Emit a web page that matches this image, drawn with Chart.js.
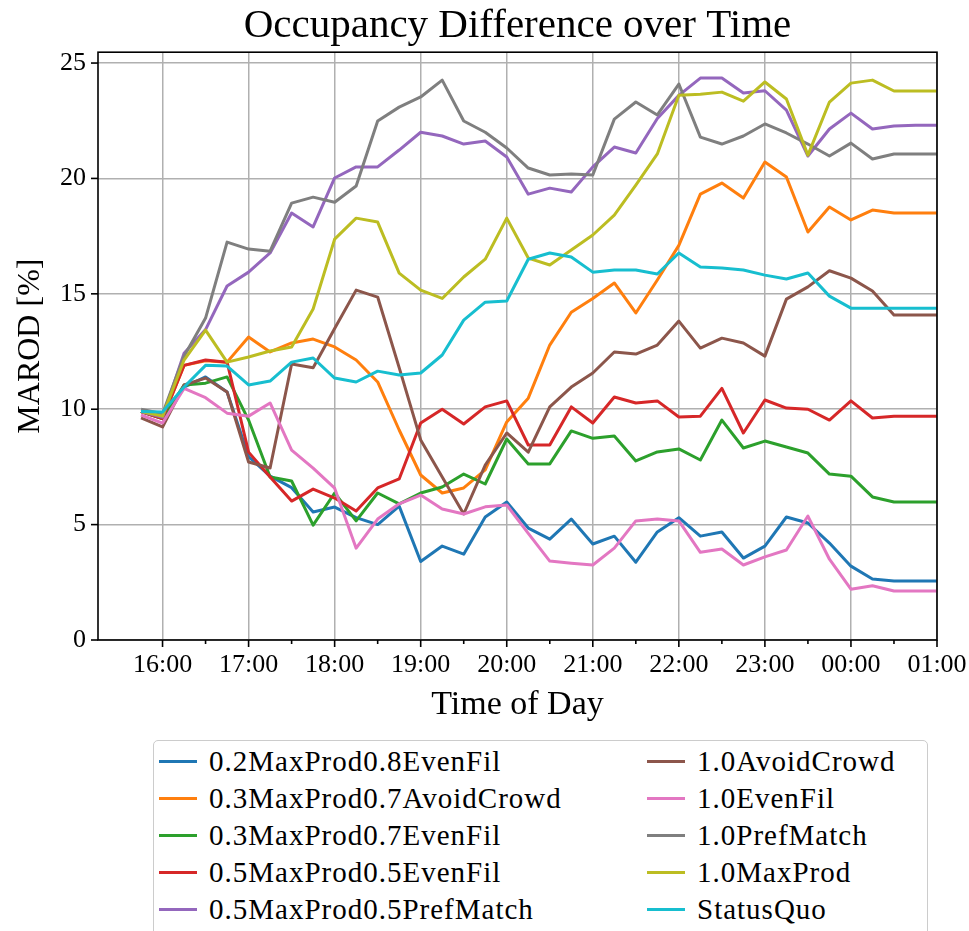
<!DOCTYPE html>
<html>
<head>
<meta charset="utf-8">
<title>Occupancy Difference over Time</title>
<script src="https://cdn.jsdelivr.net/npm/chart.js@4.4.1/dist/chart.umd.min.js"></script>
<style>
    body {
        margin: 0;
        background: #fff;
    }

    #wrap {
        position: relative;
        width: 969px;
        height: 931px;
        overflow: hidden;
        background: #fff;
    }

    #legend {
        position: absolute;
        left: 153px;
        top: 740px;
        width: 775px;
        height: 220px;
        box-sizing: border-box;
        border: 1.5px solid #cccccc;
        border-radius: 5px;
        padding: 2px 0 0 5px;
        display: grid;
        grid-template-columns: 488px auto;
        grid-template-rows: repeat(5, 37px);
        grid-auto-flow: column;
        font-family: "Liberation Serif", "DejaVu Serif", serif;
        font-size: 29px;
        letter-spacing: 1px;
        color: #000;
    }

    .item {
        display: flex;
        align-items: center;
        white-space: nowrap;
    }

    .swatch {
        flex: 0 0 38px;
        height: 3.5px;
        margin-right: 12px;
    }
</style>
</head>
<body>
<div id="wrap">
    <canvas id="occChart" width="969" height="735"></canvas>
    <div id="legend"></div>
</div>

<script>
// ==============================
// DATA
// ==============================
const times = [
    "15:45", "16:00", "16:15", "16:30", "16:45", "17:00", "17:15", "17:30",
    "17:45", "18:00", "18:15", "18:30", "18:45", "19:00", "19:15", "19:30",
    "19:45", "20:00", "20:15", "20:30", "20:45", "21:00", "21:15", "21:30",
    "21:45", "22:00", "22:15", "22:30", "22:45", "23:00", "23:15", "23:30",
    "23:45", "00:00", "00:15", "00:30", "00:45", "01:00"
];

const seriesNames = [
    "0.2MaxProd0.8EvenFil",
    "0.3MaxProd0.7AvoidCrowd",
    "0.3MaxProd0.7EvenFil",
    "0.5MaxProd0.5EvenFil",
    "0.5MaxProd0.5PrefMatch",
    "1.0AvoidCrowd",
    "1.0EvenFil",
    "1.0PrefMatch",
    "1.0MaxProd",
    "StatusQuo"
];

const maxProd02EvenFil08 = [
    9.90, 9.60, 10.96, 11.40, 10.75, 7.95, 7.10, 6.60, 5.55, 5.76,
    5.30, 5.00, 5.80, 3.40, 4.07, 3.72, 5.33, 5.98, 4.85, 4.37,
    5.24, 4.16, 4.50, 3.37, 4.68, 5.30, 4.50, 4.68, 3.55, 4.07,
    5.33, 5.07, 4.20, 3.20, 2.64, 2.56, 2.56, 2.56
];

const maxProd03AvoidCrowd07 = [
    9.90, 9.60, 11.90, 12.10, 12.04, 13.13, 12.48, 12.87, 13.04, 12.70,
    12.13, 11.18, 9.10, 7.15, 6.37, 6.59, 7.37, 9.45, 10.48, 12.78,
    14.20, 14.80, 15.47, 14.17, 15.60, 17.10, 19.32, 19.80, 19.15, 20.71,
    20.06, 17.68, 18.76, 18.20, 18.63, 18.50, 18.50, 18.50
];

const maxProd03EvenFil07 = [
    9.90, 9.60, 11.05, 11.13, 11.40, 9.53, 7.06, 6.89, 4.98, 6.37,
    5.16, 6.37, 5.90, 6.37, 6.63, 7.19, 6.76, 8.71, 7.63, 7.63,
    9.06, 8.74, 8.84, 7.76, 8.15, 8.28, 7.80, 9.53, 8.32, 8.62,
    8.36, 8.10, 7.19, 7.10, 6.20, 5.98, 5.98, 5.98
];

const maxProd05EvenFil05 = [
    9.90, 9.60, 11.90, 12.13, 12.04, 8.14, 7.06, 6.02, 6.54, 6.15,
    5.59, 6.59, 6.98, 9.40, 10.00, 9.36, 10.10, 10.36, 8.45, 8.45,
    10.10, 9.40, 10.53, 10.27, 10.36, 9.66, 9.70, 10.90, 8.97, 10.40,
    10.05, 10.00, 9.53, 10.36, 9.62, 9.70, 9.70, 9.70
];

const maxProd05PrefMatch05 = [
    9.90, 9.65, 12.43, 13.45, 15.34, 15.94, 16.77, 18.50, 17.90, 20.02,
    20.50, 20.50, 21.23, 22.00, 21.84, 21.49, 21.62, 20.93, 19.32, 19.58,
    19.41, 20.50, 21.36, 21.10, 22.60, 23.60, 24.35, 24.35, 23.70, 23.80,
    22.96, 20.97, 22.14, 22.83, 22.14, 22.27, 22.30, 22.30
];

const avoidCrowd10 = [
    9.62, 9.23, 11.05, 11.35, 10.75, 7.71, 7.45, 11.96, 11.80, 13.50,
    15.16, 14.86, 11.80, 8.67, 7.06, 5.46, 7.58, 8.97, 8.14, 10.10,
    10.96, 11.57, 12.48, 12.39, 12.78, 13.82, 12.65, 13.08, 12.87, 12.30,
    14.77, 15.30, 16.00, 15.68, 15.12, 14.08, 14.08, 14.08
];

const evenFil10 = [
    9.75, 9.40, 10.90, 10.50, 9.83, 9.70, 10.27, 8.23, 7.45, 6.58,
    3.98, 5.24, 5.90, 6.28, 5.68, 5.46, 5.77, 5.85, 4.62, 3.42,
    3.33, 3.25, 3.98, 5.16, 5.24, 5.16, 3.80, 3.94, 3.25, 3.60,
    3.90, 5.37, 3.50, 2.20, 2.35, 2.12, 2.12, 2.12
];

const prefMatch10 = [
    10.00, 9.80, 12.30, 13.95, 17.24, 16.94, 16.85, 18.93, 19.19, 18.97,
    19.67, 22.49, 23.09, 23.53, 24.26, 22.49, 22.00, 21.32, 20.45, 20.15,
    20.19, 20.15, 22.57, 23.31, 22.75, 24.09, 21.79, 21.49, 21.84, 22.36,
    21.97, 21.49, 20.97, 21.53, 20.84, 21.06, 21.06, 21.06
];

const maxProd10 = [
    9.90, 9.70, 12.13, 13.43, 12.04, 12.26, 12.52, 12.70, 14.34, 17.37,
    18.28, 18.11, 15.90, 15.16, 14.80, 15.73, 16.50, 18.28, 16.55, 16.25,
    16.90, 17.55, 18.41, 19.71, 21.06, 23.60, 23.65, 23.74, 23.35, 24.18,
    23.44, 21.01, 23.31, 24.13, 24.26, 23.79, 23.79, 23.79
];

const statusQuo = [
    9.90, 9.88, 10.96, 11.90, 11.87, 11.05, 11.22, 12.04, 12.22, 11.35,
    11.18, 11.65, 11.48, 11.57, 12.35, 13.86, 14.64, 14.69, 16.50, 16.77,
    16.60, 15.94, 16.03, 16.03, 15.86, 16.77, 16.16, 16.12, 16.03, 15.81,
    15.64, 15.90, 14.90, 14.38, 14.38, 14.38, 14.38, 14.38
];

const seriesValues = [
    maxProd02EvenFil08, maxProd03AvoidCrowd07, maxProd03EvenFil07,
    maxProd05EvenFil05, maxProd05PrefMatch05, avoidCrowd10, evenFil10,
    prefMatch10, maxProd10, statusQuo
];

const colors = [
    "#1f77b4", "#ff7f0e", "#2ca02c", "#d62728", "#9467bd",
    "#8c564b", "#e377c2", "#7f7f7f", "#bcbd22", "#17becf"
];

const yTicks = [0, 5, 10, 15, 20, 25];


// ==============================
// HELPERS
// ==============================
// minutes after 16:00, times past midnight belong to the next day
function toMinutes(label) {
    let [h, m] = label.split(":").map(Number);
    if (h < 12) h += 24;
    return (h - 16) * 60 + m;
}

function hourLabel(minutes) {
    const h = (16 + minutes / 60) % 24;
    return String(h).padStart(2, "0") + ":00";
}

const xs = times.map(toMinutes);
const serif = "'Liberation Serif', 'DejaVu Serif', serif";


// ==============================
// FRAME + TICK MARKS
// ==============================
const axisFrame = {
    id: "axisFrame",
    afterDraw(chart) {
        const { ctx, chartArea: a, scales } = chart;
        ctx.save();
        ctx.strokeStyle = "#000";
        ctx.lineWidth = 1.6;

        scales.x.ticks.forEach(t => {
            const px = scales.x.getPixelForValue(t.value);
            const len = t.value % 60 === 0 ? 7 : 4;
            ctx.beginPath();
            ctx.moveTo(px, a.bottom);
            ctx.lineTo(px, a.bottom + len);
            ctx.stroke();
        });

        scales.y.ticks.forEach(t => {
            const py = scales.y.getPixelForValue(t.value);
            ctx.beginPath();
            ctx.moveTo(a.left, py);
            ctx.lineTo(a.left - 7, py);
            ctx.stroke();
        });

        ctx.strokeRect(a.left, a.top, a.right - a.left, a.bottom - a.top);
        ctx.restore();
    }
};


// ==============================
// CHART
// ==============================
Chart.defaults.color = "#000";
Chart.defaults.font.family = serif;

const datasets = seriesNames.map((name, i) => ({
    label: name,
    data: xs.map((x, j) => ({ x: x, y: seriesValues[i][j] })),
    borderColor: colors[i],
    backgroundColor: colors[i],
    borderWidth: 3,
    borderJoinStyle: "round",
    pointRadius: 0,
    tension: 0,
    fill: false,
    order: seriesNames.length - i
}));

const chart = new Chart(document.getElementById("occChart"), {
    type: "line",
    data: { datasets },
    options: {
        responsive: false,
        animation: false,
        devicePixelRatio: 1,
        layout: { padding: { left: 0, right: 32, top: 0, bottom: 0 } },
        plugins: {
            legend: { display: false },
            tooltip: { enabled: false },
            title: {
                display: true,
                fullSize: false,    // centre over the plot area only
                text: "Occupancy Difference over Time",
                font: { family: serif, size: 41, weight: "normal" },
                padding: { top: 2, bottom: 1 }
            }
        },
        scales: {
            x: {
                type: "linear",
                min: -45,
                max: 540,
                afterBuildTicks: scale => {
                    scale.ticks = scale.ticks.filter(t => t.value >= 0);
                },
                afterFit: scale => {
                    scale.height = 95;
                    scale.paddingLeft = 0;
                    scale.paddingRight = 0;
                },
                ticks: {
                    stepSize: 30,
                    includeBounds: false,
                    autoSkip: false,
                    maxRotation: 0,
                    padding: 10,
                    font: { family: serif, size: 26 },
                    callback: v => (v % 60 === 0 ? hourLabel(v) : "")
                },
                grid: {
                    drawTicks: false,
                    lineWidth: 1.5,
                    color: c => (c.tick && c.tick.value % 60 === 0 ? "#b0b0b0" : "rgba(0,0,0,0)")
                },
                border: { display: false },
                title: {
                    display: true,
                    text: "Time of Day",
                    font: { family: serif, size: 34 },
                    padding: { top: 0, bottom: 10 }
                }
            },
            y: {
                min: 0,
                max: 25.47,
                afterBuildTicks: scale => {
                    scale.ticks = yTicks.map(v => ({ value: v }));
                },
                afterFit: scale => {
                    scale.width = 98;
                    scale.paddingTop = 0;
                    scale.paddingBottom = 0;
                },
                ticks: {
                    padding: 12,
                    font: { family: serif, size: 26 }
                },
                grid: {
                    drawTicks: false,
                    lineWidth: 1.5,
                    color: "#b0b0b0"
                },
                border: { display: false },
                title: {
                    display: true,
                    text: "MAROD [%]",
                    font: { family: serif, size: 32 },
                    padding: { top: 11, bottom: 0 }
                }
            }
        }
    },
    plugins: [axisFrame]
});


// ==============================
// LEGEND (two columns, filled top to bottom)
// ==============================
const legendEl = document.getElementById("legend");

chart.data.datasets.forEach(ds => {
    const item = document.createElement("div");
    item.className = "item";

    const swatch = document.createElement("span");
    swatch.className = "swatch";
    swatch.style.background = ds.borderColor;

    const text = document.createElement("span");
    text.textContent = ds.label;

    item.appendChild(swatch);
    item.appendChild(text);
    legendEl.appendChild(item);
});
</script>
</body>
</html>
